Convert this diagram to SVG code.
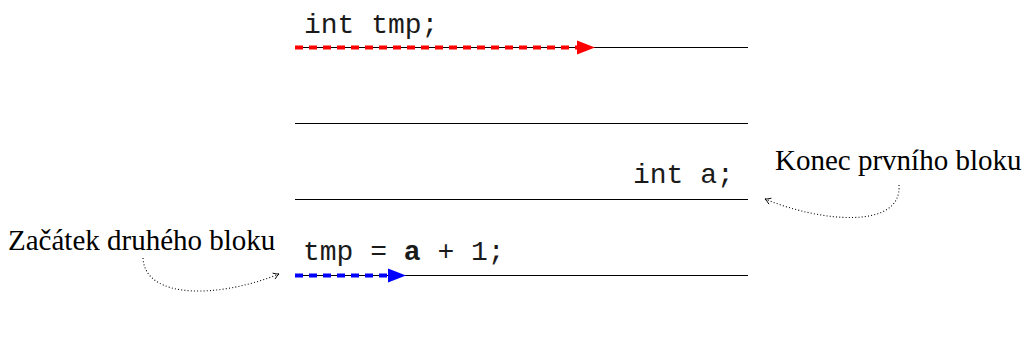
<svg xmlns="http://www.w3.org/2000/svg" width="1024" height="347" viewBox="0 0 1024 347">
<defs>
<style>
.rule{stroke:#000;stroke-width:1;fill:none}
.code{font-family:"Liberation Mono","Courier New",monospace;font-size:28px;fill:#1a1a1a}
.label{font-family:"Liberation Serif","Times New Roman",serif;font-size:29px;fill:#000}
.dot{stroke:#000;stroke-width:1.1;fill:none;stroke-dasharray:1 2.2}
</style>
<marker id="chev" viewBox="0 0 10 10" refX="9" refY="5" markerWidth="8" markerHeight="8" markerUnits="userSpaceOnUse" orient="auto">
<path d="M2,1 Q6,4 9,5 Q6,6 2,9" fill="none" stroke="#000" stroke-width="1.1"/>
</marker>
</defs>
<rect width="1024" height="347" fill="#fff"/>
<g id="lines">
<line class="rule" x1="295" y1="47.5" x2="748" y2="47.5"/>
<line class="rule" x1="295" y1="123.5" x2="748" y2="123.5"/>
<line class="rule" x1="295" y1="199.5" x2="748" y2="199.5"/>
<line class="rule" x1="295" y1="275.5" x2="748" y2="275.5"/>
</g>
<g id="code">
<text class="code" x="304" y="33">int tmp;</text>
<text class="code" x="633" y="183">int a;</text>
<text class="code" x="303" y="260">tmp = <tspan font-weight="bold">a</tspan> + 1;</text>
</g>
<g id="connectors">
<line x1="295" y1="47.5" x2="578" y2="47.5" stroke="#ff0000" stroke-width="4" stroke-dasharray="8 6"/>
<polygon points="577,40.5 595,47.5 577,54.5" fill="#ff0000"/>
<line x1="295" y1="275.5" x2="389" y2="275.5" stroke="#0000ff" stroke-width="4" stroke-dasharray="8 6"/>
<polygon points="388,268.5 406,275.5 388,282.5" fill="#0000ff"/>
<path class="dot" d="M899,185 C902,230 820,222 765,199" marker-end="url(#chev)"/>
<path class="dot" d="M143,258 C145,300 220,298 279,274" marker-end="url(#chev)"/>
</g>
<g id="label-konec"><text class="label" x="775" y="170">Konec prvního bloku</text></g>
<g id="label-zacatek"><text class="label" x="8" y="250">Začátek druhého bloku</text></g>
</svg>
